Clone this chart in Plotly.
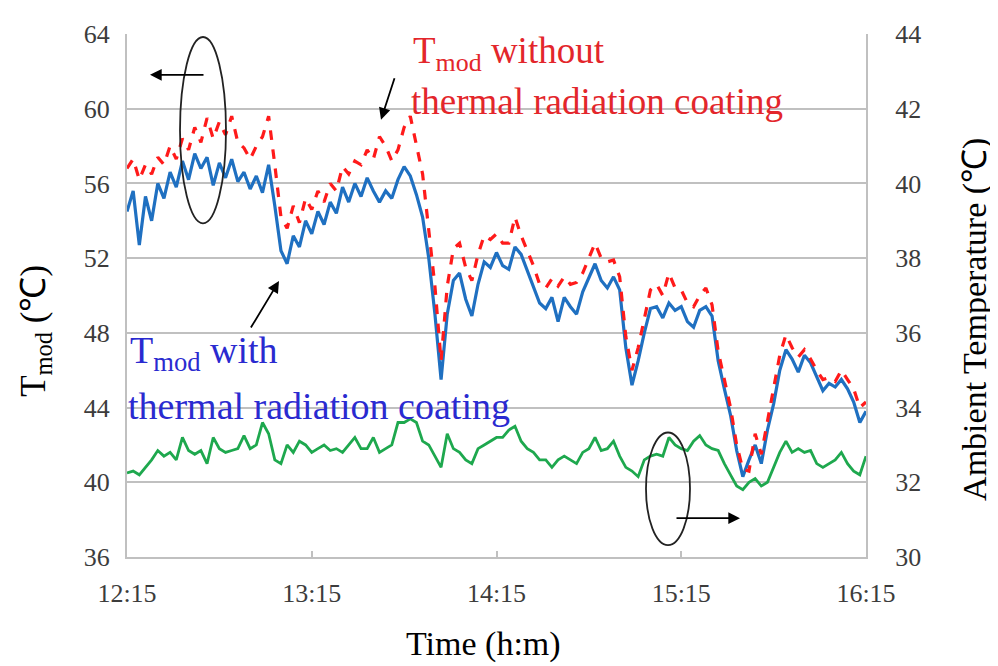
import plotly.graph_objects as go

# minutes after 12:15, sampled every 2 minutes
minutes = list(range(0, 241, 2))

tmod_with = [54.5, 55.6, 52.7, 55.3, 54.0, 56.0, 55.2, 56.6, 55.8, 57.2,
             56.2, 57.6, 56.8, 57.4, 55.9, 57.1, 56.3, 57.3, 56.1, 56.6,
             55.7, 56.4, 55.5, 57.0, 54.8, 52.4, 51.7, 53.2, 52.6, 54.0,
             53.3, 54.5, 53.8, 55.0, 54.4, 55.8, 55.0, 56.0, 55.3, 56.3,
             55.6, 55.0, 55.6, 55.2, 56.2, 56.9, 56.4, 55.4, 54.2, 52.0,
             49.0, 45.5, 49.0, 50.8, 51.2, 49.8, 48.9, 50.6, 51.8, 51.5,
             52.3, 51.6, 51.4, 52.6, 52.2, 51.3, 50.5, 49.6, 49.3, 49.9,
             48.6, 49.9, 49.4, 49.0, 50.2, 51.0, 51.7, 50.8, 50.4, 51.0,
             50.3, 47.2, 45.2, 46.5, 48.0, 49.3, 49.4, 48.8, 49.6, 49.2,
             49.4, 48.6, 48.3, 49.2, 49.4, 48.9, 46.5, 45.0, 43.6, 41.7,
             40.3, 41.2, 42.0, 41.0, 42.8, 44.2, 46.0, 47.1, 46.6, 45.9,
             46.8, 46.4, 45.6, 44.9, 45.3, 45.1, 45.5, 45.0, 44.3, 43.2,
             43.8]

tmod_without = [56.8, 57.3, 56.2, 57.0, 56.5, 57.4, 57.0, 58.0, 57.3, 58.4,
                57.8, 59.0, 58.2, 59.5, 58.4, 59.3, 58.6, 59.6, 58.2, 57.9,
                57.3, 58.0, 58.5, 59.6, 57.0, 54.2, 53.6, 54.8, 53.9, 55.2,
                54.6, 55.6, 55.0, 56.0, 55.6, 56.9, 56.5, 57.2, 57.0, 57.8,
                57.3, 58.5, 58.0, 57.2, 57.8, 59.0, 59.6, 58.0, 56.5, 53.5,
                50.5, 46.5, 50.5, 52.5, 52.8, 51.5, 50.8, 52.2, 53.2, 53.0,
                53.3, 52.8, 52.8, 54.2, 53.2, 52.4, 51.6, 50.6, 50.4, 50.9,
                50.5, 51.0, 50.6, 50.7, 51.2, 52.0, 52.8, 52.0, 51.8, 51.9,
                51.0, 47.8, 46.0, 47.2, 48.8, 50.3, 50.6, 50.0, 51.2, 50.4,
                50.3, 49.6, 49.4, 50.0, 50.4, 49.5, 47.0, 45.5, 44.0, 42.0,
                40.7, 40.6, 42.6, 41.5, 43.3, 44.9, 46.8, 47.9, 47.2, 46.7,
                47.1, 46.6, 46.0, 45.5, 45.6, 45.4, 46.0, 45.5, 45.0, 44.0,
                44.3]

ambient = [32.25, 32.3, 32.2, 32.4, 32.6, 32.85, 32.7, 32.8, 32.6, 33.2,
           32.85, 32.75, 32.85, 32.5, 33.2, 32.9, 32.8, 32.85, 32.9, 33.25,
           32.9, 33.0, 33.6, 33.3, 32.6, 32.5, 33.0, 32.8, 33.1, 33.0,
           32.8, 32.9, 33.0, 32.85, 32.9, 32.8, 33.0, 33.2, 32.9, 32.9,
           33.2, 32.8, 32.9, 33.0, 33.6, 33.6, 33.7, 33.6, 33.1, 33.0,
           32.7, 32.4, 33.3, 32.9, 32.8, 32.6, 32.5, 32.9, 33.0, 33.1,
           33.2, 33.2, 33.4, 33.5, 33.1, 32.9, 32.8, 32.6, 32.6, 32.4,
           32.6, 32.7, 32.6, 32.5, 32.8, 32.9, 33.2, 32.85, 32.9, 33.1,
           32.7, 32.4, 32.3, 32.15, 32.6, 32.7, 32.75, 32.7, 33.2, 33.0,
           32.9, 32.85, 33.1, 33.25, 33.0, 32.9, 32.85, 32.5, 32.2, 31.9,
           31.8, 32.0, 32.1, 31.9, 32.0, 32.4, 32.8, 33.1, 32.8, 32.9,
           32.8, 32.85, 32.5, 32.4, 32.5, 32.6, 32.8, 32.5, 32.3, 32.2,
           32.7]

x_tickvals = [0, 60, 120, 180, 240]
x_ticktext = ["12:15", "13:15", "14:15", "15:15", "16:15"]
left_ticks = [36, 40, 44, 48, 52, 56, 60, 64]
right_ticks = [30, 32, 34, 36, 38, 40, 42, 44]

SERIF = "Liberation Serif, Times New Roman, serif"
GRID = "#c0c0c0"
TICKC = "#3c3c3c"

fig = go.Figure()
fig.add_trace(go.Scatter(x=minutes, y=ambient, yaxis="y2", mode="lines",
                         line=dict(color="#1ea84e", width=2.8), showlegend=False))
fig.add_trace(go.Scatter(x=minutes, y=tmod_with, mode="lines",
                         line=dict(color="#1f70c1", width=3.2), showlegend=False))
fig.add_trace(go.Scatter(x=minutes, y=tmod_without, mode="lines",
                         line=dict(color="#ff1a1a", width=3.2, dash="dash"), showlegend=False))

fig.update_layout(
    width=990, height=658,
    margin=dict(l=119, r=132, t=24, b=109),
    paper_bgcolor="white", plot_bgcolor="white",
    font=dict(family=SERIF, color="black"),
    xaxis=dict(range=[0, 240], tickvals=x_tickvals, ticktext=x_ticktext,
               showgrid=False, zeroline=False, showline=True, linecolor=GRID, linewidth=2,
               ticks="inside", ticklen=6, tickcolor=GRID, tickwidth=1.5, ticklabelstandoff=12,
               tickfont=dict(family=SERIF, size=26, color=TICKC)),
    yaxis=dict(range=[36, 64], tickvals=left_ticks, showgrid=True, gridcolor=GRID, gridwidth=1.5,
               zeroline=False, showline=True, linecolor=GRID, linewidth=2,
               ticks="", ticklabelstandoff=10, tickfont=dict(family=SERIF, size=26, color=TICKC)),
    yaxis2=dict(range=[30, 44], tickvals=right_ticks, overlaying="y", side="right",
                showgrid=False, zeroline=False, showline=True, linecolor=GRID, linewidth=2,
                ticks="", ticklabelstandoff=22, tickfont=dict(family=SERIF, size=26, color=TICKC)),
)

def px(xp):
    return (xp - 127) / 739.0

def py(yp):
    return (557 - yp) / 525.0

# axis titles placed as annotations to match the reference positions
fig.add_annotation(xref="paper", yref="paper", x=px(483), y=py(644), text="Time (h:m)",
                   showarrow=False, xanchor="center", yanchor="middle",
                   font=dict(family=SERIF, size=34, color="black"))
fig.add_annotation(xref="paper", yref="paper", x=px(36), y=py(330), text="T<sub>mod</sub> (℃)",
                   showarrow=False, xanchor="center", yanchor="middle", textangle=-90,
                   font=dict(family=SERIF, size=35, color="black"))
fig.add_annotation(xref="paper", yref="paper", x=px(975), y=py(318), text="Ambient Temperature (℃)",
                   showarrow=False, xanchor="center", yanchor="middle", textangle=-90,
                   font=dict(family=SERIF, size=34, color="black"))

RED_TXT = "#e3262b"
BLUE_TXT = "#2a2ad0"
annos = [
    dict(x=px(411), y=py(52), text="T<sub>mod</sub> without", font=dict(family=SERIF, size=37, color=RED_TXT)),
    dict(x=px(409), y=py(100), text="thermal radiation coating", font=dict(family=SERIF, size=37, color=RED_TXT)),
    dict(x=px(128), y=py(352), text="T<sub>mod</sub> with", font=dict(family=SERIF, size=38, color=BLUE_TXT)),
    dict(x=px(126), y=py(405), text="thermal radiation coating", font=dict(family=SERIF, size=38, color=BLUE_TXT)),
]
for a in annos:
    fig.add_annotation(xref="paper", yref="paper", xanchor="left", yanchor="middle",
                       showarrow=False, **a)

arrows = [
    ((381, 118), (395, 75)),
    ((279, 280), (250, 328)),
    ((150, 73), (205, 73)),
    ((740, 518), (675, 518)),
]
for head, tail in arrows:
    fig.add_annotation(xref="paper", yref="paper", x=px(head[0]), y=py(head[1]),
                       ax=tail[0] - head[0], ay=tail[1] - head[1], text="",
                       showarrow=True, arrowhead=2, arrowsize=1.3, arrowwidth=1.8, arrowcolor="black")

fig.add_shape(type="circle", xref="paper", yref="paper",
              x0=px(180), x1=px(226), y0=py(222), y1=py(35),
              line=dict(color="#222222", width=1.8))
fig.add_shape(type="circle", xref="paper", yref="paper",
              x0=px(646), x1=px(690), y0=py(545), y1=py(432),
              line=dict(color="#222222", width=1.8))

fig.write_html("out.html")
